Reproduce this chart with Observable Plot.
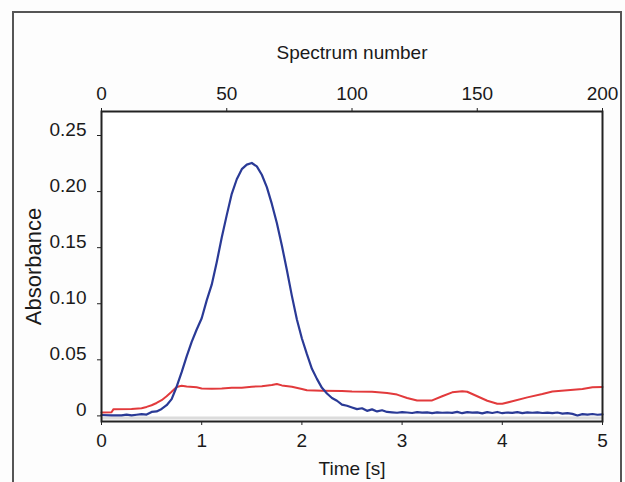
<!DOCTYPE html>
<html><head><meta charset="utf-8">
<script src="https://cdn.jsdelivr.net/npm/d3@7"></script>
<script src="https://cdn.jsdelivr.net/npm/@observablehq/plot@0.6"></script>
<style>
body{margin:0;background:#fff;}
#wrap{position:relative;width:625px;height:482px;overflow:hidden;background:#fdfdfd}
#border{position:absolute;left:12px;top:11px;width:606px;height:500px;border:2px solid #555;}
#chart{position:absolute;left:0;top:0}
</style></head><body>
<div id="wrap"><div id="border"></div><div id="chart"></div></div>
<script>
// Blue trace (time s, absorbance)
const blueTime = [0.00,0.10,0.20,0.25,0.30,0.35,0.40,0.45,0.50,0.55,0.60,0.65,0.70,0.75,0.80,0.85,0.90,0.95,1.00,1.05,1.10,1.15,1.20,1.25,1.30,1.35,1.40,1.45,1.50,1.55,1.60,1.65,1.70,1.75,1.80,1.85,1.90,1.95,2.00,2.05,2.10,2.15,2.20,2.25,2.30,2.35,2.40,2.45,2.50,2.55,2.60,2.65,2.70,2.75,2.80,2.85,2.90,2.95,3.00,3.05,3.10,3.15,3.20,3.25,3.30,3.35,3.40,3.45,3.50,3.55,3.60,3.65,3.70,3.75,3.80,3.85,3.90,3.95,4.00,4.05,4.10,4.15,4.20,4.25,4.30,4.35,4.40,4.45,4.50,4.55,4.60,4.65,4.70,4.75,4.80,4.85,4.90,4.95,5.00];
const blueAbs = [0.0008,0.0005,0.0004,0.0012,0.0004,0.0010,0.0016,0.0012,0.0035,0.0040,0.0062,0.0095,0.0150,0.0260,0.0390,0.0530,0.0660,0.0770,0.0870,0.1030,0.1170,0.1370,0.1590,0.1790,0.1980,0.2110,0.2200,0.2240,0.2255,0.2225,0.2150,0.2040,0.1890,0.1720,0.1520,0.1300,0.1070,0.0860,0.0690,0.0550,0.0420,0.0330,0.0250,0.0200,0.0160,0.0135,0.0100,0.0090,0.0075,0.0060,0.0068,0.0045,0.0058,0.0040,0.0050,0.0035,0.0032,0.0028,0.0034,0.0030,0.0026,0.0033,0.0029,0.0031,0.0025,0.0032,0.0028,0.0030,0.0027,0.0036,0.0024,0.0033,0.0029,0.0031,0.0022,0.0034,0.0026,0.0035,0.0024,0.0030,0.0027,0.0033,0.0025,0.0031,0.0028,0.0032,0.0026,0.0029,0.0024,0.0030,0.0020,0.0025,0.0018,0.0004,0.0016,0.0012,0.0017,0.0010,0.0013];
// Red trace
const redTime = [0.00,0.10,0.12,0.30,0.40,0.45,0.50,0.55,0.60,0.65,0.70,0.75,0.80,0.85,0.95,1.00,1.10,1.20,1.30,1.40,1.50,1.60,1.70,1.75,1.80,1.90,2.00,2.05,2.20,2.40,2.50,2.70,2.85,2.95,3.05,3.15,3.30,3.40,3.50,3.60,3.65,3.75,3.85,3.95,4.00,4.10,4.25,4.40,4.50,4.65,4.80,4.90,5.00];
const redAbs = [0.0030,0.0033,0.0060,0.0062,0.0068,0.0080,0.0095,0.0115,0.0140,0.0175,0.0215,0.0258,0.0268,0.0262,0.0255,0.0245,0.0242,0.0245,0.0250,0.0252,0.0260,0.0265,0.0275,0.0285,0.0272,0.0260,0.0240,0.0228,0.0225,0.0222,0.0218,0.0215,0.0205,0.0190,0.0160,0.0138,0.0138,0.0175,0.0210,0.0220,0.0215,0.0175,0.0135,0.0108,0.0108,0.0130,0.0165,0.0195,0.0218,0.0228,0.0240,0.0255,0.0258];

const timeTicks = [0,1,2,3,4,5];
const timeTickLabels = ["0","1","2","3","4","5"];
const spectrumTicks = [0,50,100,150,200];
const spectrumPerSecond = 40;
const absTicks = [0,0.05,0.10,0.15,0.20,0.25];
const absTickLabels = ["0","0.05","0.10","0.15","0.20","0.25"];

const blue = blueTime.map((t,i)=>({t, v: blueAbs[i]}));
const red = redTime.map((t,i)=>({t, v: redAbs[i]}));
const spectrumPos = spectrumTicks.map(s => s / spectrumPerSecond);

const chart = Plot.plot({
  width: 625, height: 482,
  marginLeft: 101, marginRight: 23, marginTop: 111, marginBottom: 61,
  style: {fontFamily: "'Liberation Sans', Arial, sans-serif", fontSize: "19px", color: "#1a1a1a", background: "transparent"},
  x: {domain: [0,5], label: null},
  y: {domain: [-0.005, 0.2714], label: null},
  marks: [
    Plot.frame({fill: "#fff"}),
    Plot.ruleY([0], {stroke: "#dcdcdc", strokeWidth: 3, dy: 2}),
    Plot.line(red, {x: "t", y: "v", stroke: "#e23a3c", strokeWidth: 2}),
    Plot.line(blue, {x: "t", y: "v", stroke: "#2a3a96", strokeWidth: 2.2}),
    Plot.frame({stroke: "#222", strokeWidth: 2}),
    Plot.axisX(timeTicks, {anchor: "bottom", tickSize: 4, tickFormat: () => "", label: null, stroke: "#222"}),
    Plot.axisX(spectrumPos, {anchor: "top", tickSize: 4, tickFormat: () => "", label: null, stroke: "#222"}),
    Plot.axisY(absTicks, {anchor: "left", tickSize: 4, tickFormat: () => "", label: null, stroke: "#222"}),
    Plot.text(timeTicks, {x: d => d, text: (d,i) => timeTickLabels[i], frameAnchor: "bottom", dy: 19, lineAnchor: "middle", fill: "#1a1a1a"}),
    Plot.text(spectrumPos, {x: d => d, text: (d,i) => String(spectrumTicks[i]), frameAnchor: "top", dy: -18, lineAnchor: "middle", fill: "#1a1a1a"}),
    Plot.text(absTicks, {y: d => d, text: (d,i) => absTickLabels[i], frameAnchor: "left", dx: -15, dy: -6, textAnchor: "end", lineAnchor: "middle", fill: "#1a1a1a"}),
    Plot.text(["Spectrum number"], {frameAnchor: "top", dy: -59, lineAnchor: "middle", fill: "#1a1a1a"}),
    Plot.text(["Time [s]"], {frameAnchor: "bottom", dy: 47, lineAnchor: "middle", fill: "#1a1a1a"}),
    Plot.text(["Absorbance"], {frameAnchor: "left", dx: -68, rotate: -90, textAnchor: "middle", lineAnchor: "middle", fontSize: 22, fill: "#1a1a1a"})
  ]
});
document.getElementById("chart").appendChild(chart);
</script>
</body></html>
